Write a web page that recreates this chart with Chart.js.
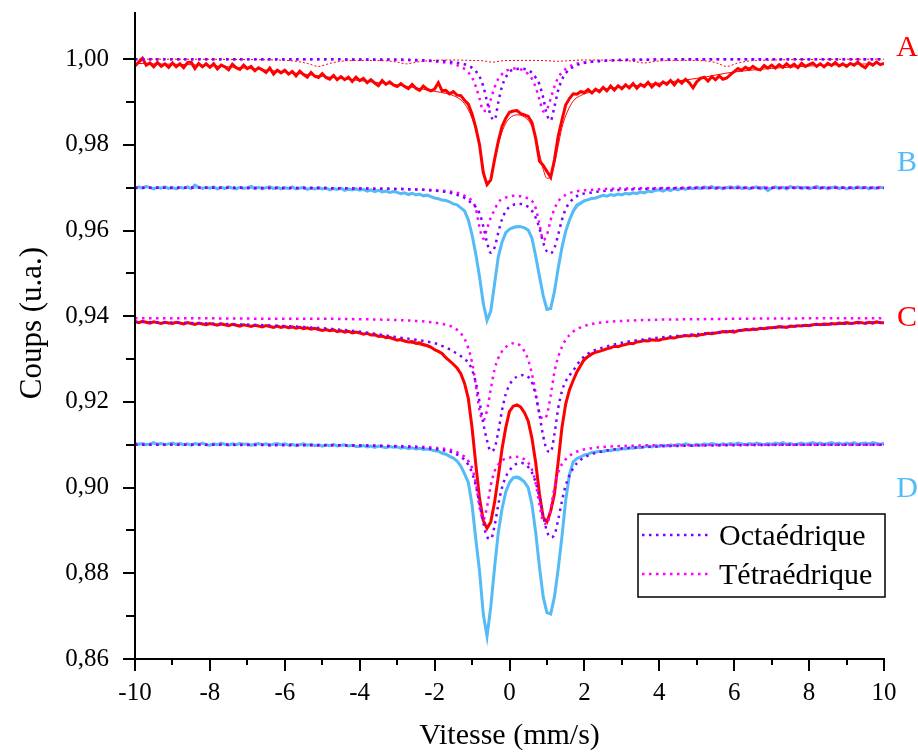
<!DOCTYPE html>
<html>
<head>
<meta charset="utf-8">
<title>Spectres Mössbauer</title>
<script src="https://cdn.jsdelivr.net/npm/chart.js@4.4.1/dist/chart.umd.min.js"></script>
<style>
  html, body { margin: 0; padding: 0; background: #fff; }
  #wrap { width: 918px; height: 756px; }
</style>
</head>
<body>
<div id="wrap"><canvas id="chart" width="918" height="756"></canvas></div>
<script>
/*************************************************
 * DATA (velocity in mm/s, counts in a.u.)
 *************************************************/

// Velocity channels of the measured spectra
const dataV = [
  -10.0, -9.9, -9.8, -9.7, -9.6, -9.5, -9.4, -9.3, -9.2, -9.1,
  -9.0, -8.9, -8.8, -8.7, -8.6, -8.5, -8.4, -8.3, -8.2, -8.1,
  -8.0, -7.9, -7.8, -7.7, -7.6, -7.5, -7.4, -7.3, -7.2, -7.1,
  -7.0, -6.9, -6.8, -6.7, -6.6, -6.5, -6.4, -6.3, -6.2, -6.1,
  -6.0, -5.9, -5.8, -5.7, -5.6, -5.5, -5.4, -5.3, -5.2, -5.1,
  -5.0, -4.9, -4.8, -4.7, -4.6, -4.5, -4.4, -4.3, -4.2, -4.1,
  -4.0, -3.9, -3.8, -3.7, -3.6, -3.5, -3.4, -3.3, -3.2, -3.1,
  -3.0, -2.9, -2.8, -2.7, -2.6, -2.5, -2.4, -2.3, -2.2, -2.1,
  -2.0, -1.9, -1.8, -1.7, -1.6, -1.5, -1.4, -1.3, -1.2, -1.1,
  -1.0, -0.9, -0.8, -0.7, -0.6, -0.5, -0.4, -0.3, -0.2, -0.1,
  0.0, 0.1, 0.2, 0.3, 0.4, 0.5, 0.6, 0.7, 0.8, 0.9,
  1.0, 1.1, 1.2, 1.3, 1.4, 1.5, 1.6, 1.7, 1.8, 1.9,
  2.0, 2.1, 2.2, 2.3, 2.4, 2.5, 2.6, 2.7, 2.8, 2.9,
  3.0, 3.1, 3.2, 3.3, 3.4, 3.5, 3.6, 3.7, 3.8, 3.9,
  4.0, 4.1, 4.2, 4.3, 4.4, 4.5, 4.6, 4.7, 4.8, 4.9,
  5.0, 5.1, 5.2, 5.3, 5.4, 5.5, 5.6, 5.7, 5.8, 5.9,
  6.0, 6.1, 6.2, 6.3, 6.4, 6.5, 6.6, 6.7, 6.8, 6.9,
  7.0, 7.1, 7.2, 7.3, 7.4, 7.5, 7.6, 7.7, 7.8, 7.9,
  8.0, 8.1, 8.2, 8.3, 8.4, 8.5, 8.6, 8.7, 8.8, 8.9,
  9.0, 9.1, 9.2, 9.3, 9.4, 9.5, 9.6, 9.7, 9.8, 9.9,
  10.0
];

const dataA = [
  0.9984, 0.9993, 1.0002, 0.9986, 0.9991, 0.9982, 0.9992, 0.9983, 0.9989, 0.9981,
  0.9991, 0.9982, 0.9989, 0.9980, 0.9992, 0.9993, 0.9978, 0.9990, 0.9982, 0.9989,
  0.9981, 0.9989, 0.9977, 0.9986, 0.9982, 0.9975, 0.9988, 0.9980, 0.9976, 0.9986,
  0.9978, 0.9983, 0.9973, 0.9980, 0.9975, 0.9969, 0.9979, 0.9965, 0.9974, 0.9968,
  0.9974, 0.9965, 0.9971, 0.9961, 0.9972, 0.9964, 0.9958, 0.9969, 0.9960, 0.9957,
  0.9966, 0.9957, 0.9953, 0.9962, 0.9952, 0.9959, 0.9952, 0.9958, 0.9948, 0.9958,
  0.9950, 0.9955, 0.9945, 0.9952, 0.9944, 0.9938, 0.9950, 0.9941, 0.9947, 0.9940,
  0.9936, 0.9943, 0.9936, 0.9931, 0.9941, 0.9932, 0.9927, 0.9937, 0.9930, 0.9926,
  0.9930, 0.9945, 0.9926, 0.9927, 0.9919, 0.9924, 0.9916, 0.9915, 0.9904, 0.9895,
  0.9872, 0.9840, 0.9800, 0.9735, 0.9707, 0.9718, 0.9765, 0.9808, 0.9843, 0.9862,
  0.9876, 0.9879, 0.9880, 0.9873, 0.9870, 0.9866, 0.9852, 0.9815, 0.9762, 0.9752,
  0.9738, 0.9724, 0.9765, 0.9820, 0.9858, 0.9893, 0.9908, 0.9919, 0.9918, 0.9924,
  0.9922, 0.9929, 0.9921, 0.9930, 0.9924, 0.9934, 0.9926, 0.9937, 0.9928, 0.9938,
  0.9931, 0.9940, 0.9933, 0.9943, 0.9932, 0.9941, 0.9936, 0.9946, 0.9935, 0.9944,
  0.9938, 0.9947, 0.9941, 0.9950, 0.9940, 0.9951, 0.9944, 0.9953, 0.9945, 0.9933,
  0.9947, 0.9955, 0.9958, 0.9949, 0.9959, 0.9952, 0.9961, 0.9953, 0.9956, 0.9964,
  0.9971, 0.9978, 0.9974, 0.9981, 0.9976, 0.9983, 0.9977, 0.9975, 0.9985, 0.9979,
  0.9986, 0.9979, 0.9987, 0.9981, 0.9989, 0.9982, 0.9988, 0.9980, 0.9990, 0.9983,
  0.9987, 0.9991, 0.9983, 0.9989, 0.9982, 0.9990, 0.9985, 0.9992, 0.9984, 0.9989,
  0.9983, 0.9990, 0.9986, 0.9993, 0.9985, 0.9980, 0.9991, 0.9986, 0.9993, 0.9987,
  0.9990
];

const dataB = [
  0.9698, 0.9702, 0.9699, 0.9703, 0.9700, 0.9697, 0.9701, 0.9699, 0.9702, 0.9698,
  0.9700, 0.9697, 0.9701, 0.9699, 0.9702, 0.9698, 0.9706, 0.9701, 0.9698, 0.9701,
  0.9699, 0.9702, 0.9697, 0.9701, 0.9698, 0.9702, 0.9699, 0.9697, 0.9701, 0.9698,
  0.9700, 0.9703, 0.9698, 0.9701, 0.9697, 0.9700, 0.9702, 0.9698, 0.9701, 0.9697,
  0.9700, 0.9698, 0.9702, 0.9697, 0.9699, 0.9701, 0.9696, 0.9699, 0.9697, 0.9700,
  0.9697, 0.9699, 0.9695, 0.9698, 0.9696, 0.9699, 0.9694, 0.9697, 0.9695, 0.9698,
  0.9694, 0.9696, 0.9692, 0.9695, 0.9691, 0.9694, 0.9690, 0.9692, 0.9689, 0.9691,
  0.9689, 0.9686, 0.9688, 0.9684, 0.9687, 0.9683, 0.9685, 0.9681, 0.9683, 0.9679,
  0.9676, 0.9674, 0.9671, 0.9670, 0.9667, 0.9662, 0.9660, 0.9653, 0.9646, 0.9625,
  0.9590, 0.9545, 0.9492, 0.9430, 0.9390, 0.9412, 0.9475, 0.9538, 0.9573, 0.9595,
  0.9603, 0.9607, 0.9609, 0.9609, 0.9606, 0.9601, 0.9582, 0.9540, 0.9493, 0.9448,
  0.9416, 0.9418, 0.9458, 0.9512, 0.9560, 0.9598, 0.9624, 0.9645, 0.9660, 0.9664,
  0.9670, 0.9672, 0.9675, 0.9676, 0.9679, 0.9682, 0.9680, 0.9684, 0.9682, 0.9685,
  0.9683, 0.9687, 0.9685, 0.9688, 0.9686, 0.9690, 0.9688, 0.9692, 0.9690, 0.9694,
  0.9695, 0.9692, 0.9696, 0.9693, 0.9698, 0.9695, 0.9699, 0.9696, 0.9700, 0.9697,
  0.9701, 0.9698, 0.9702, 0.9699, 0.9703, 0.9698, 0.9701, 0.9697, 0.9700, 0.9702,
  0.9699, 0.9703, 0.9698, 0.9701, 0.9697, 0.9700, 0.9702, 0.9698, 0.9701, 0.9693,
  0.9699, 0.9702, 0.9698, 0.9701, 0.9697, 0.9703, 0.9699, 0.9702, 0.9698, 0.9701,
  0.9697, 0.9700, 0.9703, 0.9698, 0.9701, 0.9697, 0.9700, 0.9702, 0.9698, 0.9701,
  0.9697, 0.9700, 0.9698, 0.9702, 0.9699, 0.9701, 0.9697, 0.9700, 0.9698, 0.9701,
  0.9699
];

const dataC = [
  0.9387, 0.9385, 0.9388, 0.9386, 0.9384, 0.9387, 0.9385, 0.9383, 0.9386, 0.9384,
  0.9383, 0.9386, 0.9384, 0.9382, 0.9385, 0.9383, 0.9381, 0.9384, 0.9382, 0.9380,
  0.9383, 0.9381, 0.9379, 0.9382, 0.9380, 0.9378, 0.9381, 0.9379, 0.9377, 0.9380,
  0.9378, 0.9376, 0.9379, 0.9377, 0.9375, 0.9378, 0.9376, 0.9374, 0.9377, 0.9374,
  0.9376, 0.9373, 0.9375, 0.9372, 0.9374, 0.9371, 0.9373, 0.9370, 0.9372, 0.9369,
  0.9367, 0.9369, 0.9366, 0.9368, 0.9364, 0.9366, 0.9363, 0.9365, 0.9361, 0.9363,
  0.9361, 0.9358, 0.9360, 0.9356, 0.9357, 0.9353, 0.9354, 0.9350, 0.9351, 0.9347,
  0.9344, 0.9346, 0.9342, 0.9340, 0.9341, 0.9337, 0.9338, 0.9334, 0.9332, 0.9328,
  0.9322, 0.9318, 0.9313, 0.9303, 0.9296, 0.9288, 0.9279, 0.9266, 0.9243, 0.9208,
  0.9140, 0.9055, 0.8975, 0.8923, 0.8905, 0.8920, 0.8965, 0.9025, 0.9090, 0.9140,
  0.9178, 0.9190, 0.9193, 0.9188, 0.9175, 0.9155, 0.9115, 0.9058, 0.8985, 0.8930,
  0.8920, 0.8945, 0.8985, 0.9060, 0.9140, 0.9195, 0.9228, 0.9250, 0.9270, 0.9285,
  0.9300, 0.9306, 0.9312, 0.9316, 0.9318, 0.9321, 0.9324, 0.9326, 0.9330, 0.9329,
  0.9332, 0.9334, 0.9337, 0.9336, 0.9340, 0.9341, 0.9343, 0.9342, 0.9345, 0.9344,
  0.9344, 0.9347, 0.9348, 0.9350, 0.9349, 0.9352, 0.9353, 0.9355, 0.9354, 0.9356,
  0.9354, 0.9357, 0.9358, 0.9360, 0.9359, 0.9361, 0.9362, 0.9364, 0.9363, 0.9365,
  0.9363, 0.9366, 0.9367, 0.9369, 0.9368, 0.9370, 0.9369, 0.9372, 0.9371, 0.9373,
  0.9373, 0.9374, 0.9376, 0.9375, 0.9374, 0.9377, 0.9376, 0.9378, 0.9377, 0.9379,
  0.9378, 0.9380, 0.9381, 0.9380, 0.9382, 0.9381, 0.9383, 0.9382, 0.9384, 0.9383,
  0.9385, 0.9383, 0.9384, 0.9386, 0.9385, 0.9383, 0.9386, 0.9384, 0.9387, 0.9385,
  0.9385
];

const dataD = [
  0.9104, 0.9101, 0.9103, 0.9100, 0.9102, 0.9105, 0.9101, 0.9103, 0.9100, 0.9102,
  0.9104, 0.9101, 0.9103, 0.9100, 0.9102, 0.9099, 0.9103, 0.9101, 0.9104, 0.9100,
  0.9099, 0.9102, 0.9100, 0.9104, 0.9101, 0.9099, 0.9102, 0.9100, 0.9103, 0.9101,
  0.9102, 0.9099, 0.9101, 0.9103, 0.9100, 0.9102, 0.9099, 0.9101, 0.9103, 0.9100,
  0.9102, 0.9099, 0.9101, 0.9098, 0.9100, 0.9102, 0.9099, 0.9101, 0.9098, 0.9100,
  0.9097, 0.9100, 0.9098, 0.9101, 0.9097, 0.9099, 0.9100, 0.9097, 0.9099, 0.9096,
  0.9096, 0.9098, 0.9095, 0.9097, 0.9094, 0.9097, 0.9095, 0.9093, 0.9096, 0.9094,
  0.9095, 0.9092, 0.9094, 0.9091, 0.9093, 0.9090, 0.9092, 0.9089, 0.9090, 0.9088,
  0.9086, 0.9085, 0.9080, 0.9078, 0.9073, 0.9069, 0.9062, 0.9050, 0.9032, 0.9012,
  0.8960, 0.8880, 0.8805, 0.8705, 0.8653, 0.8722, 0.8812, 0.8895, 0.8950, 0.8990,
  0.9012, 0.9023, 0.9024, 0.9020, 0.9013, 0.9000, 0.8960, 0.8895, 0.8815, 0.8745,
  0.8708, 0.8705, 0.8745, 0.8810, 0.8885, 0.8970, 0.9030, 0.9060, 0.9068, 0.9072,
  0.9076, 0.9078, 0.9082, 0.9083, 0.9085, 0.9084, 0.9087, 0.9086, 0.9089, 0.9088,
  0.9091, 0.9090, 0.9093, 0.9092, 0.9094, 0.9093, 0.9095, 0.9097, 0.9095, 0.9098,
  0.9096, 0.9099, 0.9097, 0.9100, 0.9098, 0.9101, 0.9099, 0.9102, 0.9100, 0.9098,
  0.9101, 0.9099, 0.9102, 0.9100, 0.9103, 0.9101, 0.9099, 0.9102, 0.9100, 0.9103,
  0.9101, 0.9104, 0.9102, 0.9100, 0.9103, 0.9101, 0.9104, 0.9102, 0.9100, 0.9103,
  0.9101, 0.9104, 0.9102, 0.9105, 0.9101, 0.9103, 0.9100, 0.9102, 0.9104, 0.9101,
  0.9103, 0.9105, 0.9102, 0.9104, 0.9101, 0.9103, 0.9105, 0.9102, 0.9104, 0.9101,
  0.9104, 0.9102, 0.9105, 0.9101, 0.9103, 0.9104, 0.9102, 0.9105, 0.9103, 0.9101,
  0.9104
];

// Velocity points of the fitted curves and sub-spectra
const fitV = [
  -10, -8, -6, -5, -4, -3, -2.5, -2,
  -1.7, -1.5, -1.3, -1.2, -1.1, -1.0, -0.9, -0.8, -0.7, -0.6, -0.5,
  -0.4, -0.3, -0.2, -0.1, 0, 0.1, 0.2, 0.3, 0.4, 0.5,
  0.6, 0.7, 0.8, 0.9, 1.0, 1.1, 1.2, 1.3, 1.4, 1.5,
  1.7, 1.9, 2.2, 2.5, 3, 4, 5, 6, 8, 10
];

const fitA = [
  0.9990, 0.9985, 0.9970, 0.9960, 0.9950, 0.9940, 0.9933, 0.9925,
  0.9920, 0.9915, 0.9905, 0.9896, 0.9882, 0.9862, 0.9835, 0.9795, 0.9745, 0.9712, 0.9720,
  0.9760, 0.9800, 0.9830, 0.9850, 0.9862, 0.9868, 0.9870, 0.9869, 0.9865, 0.9857,
  0.9843, 0.9818, 0.9780, 0.9743, 0.9722, 0.9725, 0.9755, 0.9798, 0.9840, 0.9868,
  0.9902, 0.9915, 0.9924, 0.9930, 0.9935, 0.9944, 0.9955, 0.9970, 0.9984, 0.9990
];
const octaA = [
  1.0000, 1.0000, 1.0000, 1.0000, 0.9999, 0.9999, 0.9998, 0.9996,
  0.9995, 0.9993, 0.9990, 0.9988, 0.9984, 0.9980, 0.9972, 0.9959, 0.9937, 0.9901, 0.9868,
  0.9858, 0.9899, 0.9936, 0.9957, 0.9970, 0.9976, 0.9977, 0.9978, 0.9977, 0.9974,
  0.9968, 0.9957, 0.9941, 0.9910, 0.9870, 0.9857, 0.9889, 0.9927, 0.9952, 0.9967,
  0.9982, 0.9989, 0.9994, 0.9996, 0.9998, 0.9999, 1.0000, 1.0000, 1.0000, 1.0000
];
const tetraA = [
  1.0000, 1.0000, 1.0000, 1.0000, 0.9999, 0.9998, 0.9997, 0.9995,
  0.9992, 0.9989, 0.9982, 0.9977, 0.9969, 0.9957, 0.9936, 0.9908, 0.9879, 0.9880, 0.9906,
  0.9934, 0.9954, 0.9965, 0.9972, 0.9976, 0.9978, 0.9978, 0.9976, 0.9972, 0.9965,
  0.9954, 0.9934, 0.9906, 0.9878, 0.9883, 0.9908, 0.9936, 0.9957, 0.9969, 0.9977,
  0.9987, 0.9991, 0.9994, 0.9996, 0.9998, 0.9999, 1.0000, 1.0000, 1.0000, 1.0000
];

const fitB = [
  0.9700, 0.9699, 0.9698, 0.9697, 0.9694, 0.9689, 0.9684, 0.9677,
  0.9670, 0.9663, 0.9652, 0.9642, 0.9623, 0.9592, 0.9546, 0.9490, 0.9432, 0.9393, 0.9410,
  0.9470, 0.9532, 0.9572, 0.9594, 0.9604, 0.9609, 0.9611, 0.9610, 0.9606, 0.9597,
  0.9578, 0.9542, 0.9492, 0.9445, 0.9418, 0.9420, 0.9455, 0.9508, 0.9556, 0.9594,
  0.9640, 0.9661, 0.9673, 0.9680, 0.9686, 0.9693, 0.9697, 0.9699, 0.9700, 0.9700
];
const octaB = [
  0.9700, 0.9700, 0.9699, 0.9699, 0.9698, 0.9697, 0.9696, 0.9693,
  0.9690, 0.9686, 0.9680, 0.9676, 0.9670, 0.9663, 0.9655, 0.9640, 0.9610, 0.9572, 0.9548,
  0.9560, 0.9595, 0.9626, 0.9645, 0.9655, 0.9660, 0.9662, 0.9662, 0.9660, 0.9655,
  0.9646, 0.9630, 0.9605, 0.9572, 0.9551, 0.9547, 0.9560, 0.9590, 0.9625, 0.9650,
  0.9674, 0.9684, 0.9689, 0.9692, 0.9695, 0.9698, 0.9699, 0.9699, 0.9700, 0.9700
];
const tetraB = [
  0.9700, 0.9700, 0.9699, 0.9699, 0.9698, 0.9697, 0.9696, 0.9694,
  0.9692, 0.9690, 0.9685, 0.9681, 0.9676, 0.9669, 0.9651, 0.9607, 0.9581, 0.9604, 0.9630,
  0.9648, 0.9666, 0.9673, 0.9677, 0.9679, 0.9681, 0.9681, 0.9680, 0.9677, 0.9675,
  0.9669, 0.9652, 0.9615, 0.9578, 0.9590, 0.9625, 0.9650, 0.9668, 0.9677, 0.9683,
  0.9690, 0.9693, 0.9695, 0.9697, 0.9698, 0.9699, 0.9700, 0.9700, 0.9700, 0.9700
];

const fitC = [
  0.9386, 0.9382, 0.9375, 0.9369, 0.9361, 0.9344, 0.9335, 0.9322,
  0.9305, 0.9290, 0.9266, 0.9245, 0.9210, 0.9145, 0.9060, 0.8978, 0.8925, 0.8905, 0.8920,
  0.8963, 0.9022, 0.9085, 0.9138, 0.9174, 0.9190, 0.9193, 0.9188, 0.9175, 0.9153,
  0.9112, 0.9055, 0.8985, 0.8932, 0.8920, 0.8942, 0.8988, 0.9060, 0.9135, 0.9190,
  0.9248, 0.9283, 0.9310, 0.9321, 0.9333, 0.9346, 0.9356, 0.9364, 0.9378, 0.9385
];
const octaC = [
  0.9387, 0.9383, 0.9377, 0.9372, 0.9364, 0.9351, 0.9345, 0.9337,
  0.9327, 0.9318, 0.9307, 0.9300, 0.9292, 0.9275, 0.9245, 0.9200, 0.9150, 0.9110, 0.9085,
  0.9092, 0.9130, 0.9180, 0.9218, 0.9240, 0.9252, 0.9259, 0.9262, 0.9263, 0.9258,
  0.9245, 0.9215, 0.9170, 0.9120, 0.9088, 0.9083, 0.9125, 0.9185, 0.9225, 0.9248,
  0.9273, 0.9298, 0.9318, 0.9327, 0.9338, 0.9350, 0.9358, 0.9366, 0.9379, 0.9386
];
const tetraC = [
  0.9395, 0.9395, 0.9394, 0.9394, 0.9393, 0.9391, 0.9389, 0.9385,
  0.9380, 0.9374, 0.9360, 0.9347, 0.9325, 0.9292, 0.9240, 0.9180, 0.9157, 0.9180, 0.9230,
  0.9275, 0.9302, 0.9318, 0.9328, 0.9334, 0.9337, 0.9336, 0.9330, 0.9318, 0.9298,
  0.9265, 0.9220, 0.9175, 0.9160, 0.9170, 0.9215, 0.9270, 0.9305, 0.9328, 0.9345,
  0.9364, 0.9374, 0.9382, 0.9386, 0.9389, 0.9392, 0.9393, 0.9394, 0.9395, 0.9395
];

const fitD = [
  0.9102, 0.9101, 0.9100, 0.9099, 0.9097, 0.9094, 0.9091, 0.9087,
  0.9079, 0.9070, 0.9052, 0.9035, 0.9008, 0.8962, 0.8885, 0.8800, 0.8705, 0.8656, 0.8718,
  0.8808, 0.8890, 0.8948, 0.8988, 0.9012, 0.9024, 0.9027, 0.9024, 0.9015, 0.8998,
  0.8958, 0.8893, 0.8812, 0.8745, 0.8708, 0.8706, 0.8745, 0.8812, 0.8888, 0.8965,
  0.9055, 0.9072, 0.9082, 0.9087, 0.9092, 0.9097, 0.9100, 0.9101, 0.9102, 0.9102
];
const octaD = [
  0.9100, 0.9100, 0.9099, 0.9099, 0.9098, 0.9096, 0.9094, 0.9090,
  0.9086, 0.9081, 0.9072, 0.9065, 0.9053, 0.9035, 0.9005, 0.8962, 0.8918, 0.8885, 0.8880,
  0.8910, 0.8960, 0.9000, 0.9025, 0.9040, 0.9050, 0.9056, 0.9058, 0.9055, 0.9048,
  0.9035, 0.9012, 0.8978, 0.8935, 0.8898, 0.8884, 0.8890, 0.8925, 0.8968, 0.9005,
  0.9045, 0.9065, 0.9078, 0.9085, 0.9091, 0.9096, 0.9098, 0.9099, 0.9100, 0.9100
];
const tetraD = [
  0.9100, 0.9100, 0.9100, 0.9099, 0.9099, 0.9097, 0.9096, 0.9093,
  0.9090, 0.9086, 0.9078, 0.9072, 0.9062, 0.9046, 0.9010, 0.8955, 0.8925, 0.8955, 0.9005,
  0.9038, 0.9054, 0.9063, 0.9068, 0.9070, 0.9072, 0.9072, 0.9070, 0.9066, 0.9058,
  0.9042, 0.9010, 0.8960, 0.8920, 0.8915, 0.8950, 0.9000, 0.9035, 0.9055, 0.9066,
  0.9080, 0.9087, 0.9092, 0.9095, 0.9097, 0.9099, 0.9099, 0.9100, 0.9100, 0.9100
];

// Small magnetic sextet in spectrum A
const sextetV = [
  -10, -6.2, -5.7, -5.4, -5.1, -4.8, -4.5, -4.0, -3.3, -3.0,
  -2.75, -2.5, -2.2, -1.6, -1.0, -0.7, -0.45, -0.2, 0.2, 0.8,
  1.05, 1.28, 1.5, 2.0, 2.9, 3.3, 3.6, 3.9, 4.4, 5.0,
  5.5, 5.8, 6.1, 6.6, 10
];
const sextetA = [
  1.0000, 0.9998, 0.9995, 0.9990, 0.9983, 0.9990, 0.9995, 0.9997, 0.9996, 0.9993,
  0.9989, 0.9993, 0.9996, 0.9998, 0.9997, 0.9996, 0.9993, 0.9996, 0.9997, 0.9997,
  0.9996, 0.9995, 0.9996, 0.9998, 0.9997, 0.9995, 0.9991, 0.9995, 0.9997, 0.9997,
  0.9992, 0.9983, 0.9991, 0.9997, 1.0000
];

// Spectrum names shown at the right end, with the count level they sit at
const spectrumNames = ["A", "B", "C", "D"];
const spectrumLevels = [1.0026, 0.9757, 0.9396, 0.8997];

const legendNames = ["Octaédrique", "Tétraédrique"];


/*************************************************
 * STYLE
 *************************************************/
const SERIF = '"Liberation Serif", "Times New Roman", serif';
const RED = "#ff0000";
const BLUE = "#55bbf6";
const PURPLE = "#8000ff";
const MAGENTA = "#ff00ff";

const spectrumColors = [RED, BLUE, RED, BLUE];


/*************************************************
 * DATASETS
 *************************************************/
function pts(xs, ys) {
  return xs.map((x, i) => ({ x: x, y: ys[i] }));
}

function measured(ys, color) {
  return {
    data: pts(dataV, ys), borderColor: color, borderWidth: 3,
    pointRadius: 0, tension: 0, order: 2
  };
}

function fitted(ys, color) {
  return {
    data: pts(fitV, ys), borderColor: color, borderWidth: 1,
    pointRadius: 0, cubicInterpolationMode: "monotone", order: 1
  };
}

function site(ys, color) {
  return {
    data: pts(fitV, ys), borderColor: color, borderWidth: 2.5,
    borderDash: [2.5, 4.5], pointRadius: 0,
    cubicInterpolationMode: "monotone", order: 0
  };
}

const datasets = [
  measured(dataA, RED), measured(dataB, BLUE), measured(dataC, RED), measured(dataD, BLUE),
  fitted(fitA, RED), fitted(fitB, BLUE), fitted(fitC, RED), fitted(fitD, BLUE),
  site(octaA, PURPLE), site(tetraA, MAGENTA),
  site(octaB, PURPLE), site(tetraB, MAGENTA),
  site(octaC, PURPLE), site(tetraC, MAGENTA),
  site(octaD, PURPLE), site(tetraD, MAGENTA),
  {
    data: pts(sextetV, sextetA), borderColor: RED, borderWidth: 1,
    borderDash: [2, 2], pointRadius: 0, cubicInterpolationMode: "monotone", order: 0
  }
];


/*************************************************
 * AXIS TICKS, TITLES, SPECTRUM NAMES AND LEGEND
 *************************************************/
const decor = {
  id: "decor",
  afterDraw(chart) {
    const { ctx, chartArea: area, scales: { x, y } } = chart;
    ctx.save();

    // axis lines and tick marks
    ctx.strokeStyle = "#000";
    ctx.lineWidth = 2;
    ctx.beginPath();
    ctx.moveTo(area.left, area.top);
    ctx.lineTo(area.left, area.bottom);
    ctx.lineTo(area.right + 1, area.bottom);
    y.ticks.forEach(t => {
      const k = Math.round(t.value * 100);
      if (k > 100) return;
      const py = Math.round(y.getPixelForValue(k / 100));
      const len = k % 2 === 0 ? 12 : 9;
      ctx.moveTo(area.left - len, py);
      ctx.lineTo(area.left, py);
    });
    x.ticks.forEach(t => {
      const v = Math.round(t.value);
      const px = Math.round(x.getPixelForValue(v));
      const len = v % 2 === 0 ? 12 : 6;
      ctx.moveTo(px, area.bottom);
      ctx.lineTo(px, area.bottom + len);
    });
    ctx.stroke();

    // y axis title
    ctx.fillStyle = "#000";
    ctx.font = "31px " + SERIF;
    ctx.textAlign = "center";
    ctx.textBaseline = "middle";
    ctx.save();
    ctx.translate(33, 323);
    ctx.rotate(-Math.PI / 2);
    ctx.fillText("Coups (u.a.)", 0, 0);
    ctx.restore();

    // spectrum names
    ctx.font = "30px " + SERIF;
    spectrumNames.forEach((name, i) => {
      ctx.fillStyle = spectrumColors[i];
      ctx.fillText(name, area.right + 23, y.getPixelForValue(spectrumLevels[i]));
    });

    // legend box
    const boxL = area.right - 246, boxT = 514, boxW = 247, boxH = 83;
    ctx.fillStyle = "#fff";
    ctx.fillRect(boxL, boxT, boxW, boxH);
    ctx.lineWidth = 1.5;
    ctx.strokeStyle = "#000";
    ctx.strokeRect(boxL, boxT, boxW, boxH);

    const rows = [boxT + 21, boxT + 60];
    [PURPLE, MAGENTA].forEach((color, i) => {
      ctx.strokeStyle = color;
      ctx.lineWidth = 2.5;
      ctx.setLineDash([2.5, 4.5]);
      ctx.beginPath();
      ctx.moveTo(boxL + 4, rows[i]);
      ctx.lineTo(boxL + 72, rows[i]);
      ctx.stroke();
      ctx.setLineDash([]);
      ctx.fillStyle = "#000";
      ctx.textAlign = "left";
      ctx.fillText(legendNames[i], boxL + 81, rows[i] + 2);
    });

    ctx.restore();
  }
};


/*************************************************
 * CHART
 *************************************************/
new Chart(document.getElementById("chart").getContext("2d"), {
  type: "line",
  data: { datasets: datasets },
  options: {
    responsive: false,
    animation: false,
    devicePixelRatio: 1,
    layout: { padding: { top: 12, right: 34, bottom: 0, left: 0 } },
    plugins: {
      legend: { display: false },
      tooltip: { enabled: false }
    },
    scales: {
      x: {
        type: "linear",
        min: -10,
        max: 10,
        afterFit(s) {
          s.height = 97;
          s.paddingLeft = 0;
          s.paddingRight = 0;
        },
        grid: { display: false },
        border: { display: false },
        ticks: {
          stepSize: 1,
          autoSkip: false,
          maxRotation: 0,
          padding: 11,
          color: "#000",
          font: { family: SERIF, size: 25 },
          callback: v => (Math.round(v) % 2 === 0 ? String(Math.round(v)) : "")
        },
        title: {
          display: true,
          text: "Vitesse (mm/s)",
          color: "#000",
          font: { family: SERIF, size: 30 },
          padding: { top: 0, bottom: 2 }
        }
      },
      y: {
        type: "linear",
        min: 0.86,
        max: 1.011,
        afterFit(s) {
          s.width = 135;
          s.paddingTop = 0;
          s.paddingBottom = 0;
        },
        grid: { display: false },
        border: { display: false },
        ticks: {
          stepSize: 0.01,
          autoSkip: false,
          padding: 18,
          color: "#000",
          font: { family: SERIF, size: 25 },
          callback: v => {
            const k = Math.round(v * 100);
            return (k % 2 === 0 && k <= 100) ? (k / 100).toFixed(2).replace(".", ",") : "";
          }
        }
      }
    }
  },
  plugins: [decor]
});
</script>
</body>
</html>
